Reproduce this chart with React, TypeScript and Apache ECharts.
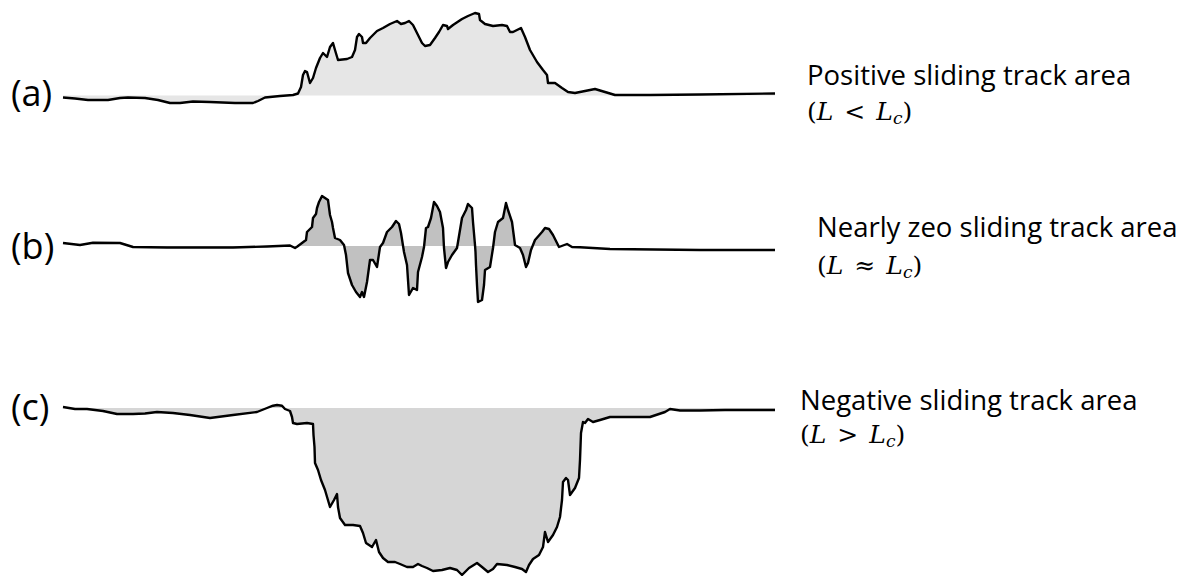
import React, { useEffect, useRef } from "react";
import * as echarts from "echarts";

// Profile data: [distance along track, height relative to the reference line]
const profileA: number[][] = [
  [0, -2], [12, -3], [25, -4.5], [45, -4.5], [57, -2.5], [65, -2], [82, -2.5], [95, -4.5],
  [107, -7.5], [117, -7.5], [130, -6], [147, -6.5], [172, -7.5], [190, -7.5], [195, -5.5],
  [202, -2], [217, -0.5], [230, 0.5], [235, 2], [238, 8.5], [240, 20.5], [242, 24.5],
  [244, 23.5], [247, 12.5], [250, 17.5], [253, 27.5], [257, 37.5], [260, 42.5], [262, 40.5],
  [264, 38.5], [267, 48.5], [270, 52.5], [272, 45.5], [275, 35.5], [284, 36.5], [289, 38.5],
  [292, 45.5], [294, 58.5], [296, 61.5], [299, 58.5], [300, 52.5], [303, 52.5], [307, 57.5],
  [314, 64.5], [320, 67.5], [327, 71.5], [334, 74.5], [338, 71.5], [342, 72.5], [346, 74.5],
  [350, 70.5], [354, 62.5], [359, 52.5], [362, 49.5], [367, 50.5], [372, 57.5], [376, 63.5],
  [380, 70.5], [384, 69.5], [385, 66.5], [390, 70.5], [399, 76.5], [405, 79.5], [412, 82.5],
  [416, 81.5], [417, 75.5], [422, 71.5], [430, 69.5], [439, 70.5], [444, 69.5], [447, 63.5],
  [450, 63.5], [458, 67.5], [462, 58.5], [467, 45.5], [474, 33.5], [480, 25.5], [484, 20.5],
  [485, 12.5], [492, 12.5], [499, 7.5], [505, 3.5], [512, 2.5], [522, 4.5], [532, 6.5],
  [542, 3.5], [552, 0.5], [587, 0.5], [637, 1], [712, 2],
];

const profileB: number[][] = [
  [0, 3], [17, 1], [30, 3.3], [57, 3], [70, -1], [104, -1.5], [170, -1.5], [204, -0.5],
  [227, 0.5], [232, -2], [234, -0.7], [239, 3], [243, 6], [244, 14], [249, 19], [250, 28],
  [253, 32], [254, 38], [256, 44], [259, 50], [262, 48], [265, 46], [267, 31], [269, 24],
  [270, 18], [272, 8], [277, 6], [281, 1], [283, -9], [285, -27], [289, -39], [293, -46],
  [297, -51], [299, -46], [301, -51], [304, -36], [307, -14], [310, -14], [314, -21],
  [317, -1], [320, 3], [324, 14], [329, 19], [333, 25], [336, 22], [338, 13], [341, -6],
  [344, -19], [346, -49], [350, -42], [354, -44], [355, -26], [359, -11], [361, -1],
  [363, 18], [365, 19], [368, 28], [371, 44], [374, 40], [377, 34], [380, 18], [381, -2],
  [383, -22], [385, -16], [389, -9], [394, -2], [399, 28], [403, 36], [405, 42], [409, 38],
  [410, 24], [412, 1], [412.5, -6], [413, -19], [414, -39], [415, -56], [419, -54],
  [421, -39], [422, -24], [427, -21], [430, -2], [432, 14], [435, 24], [440, 28], [443, 43],
  [445, 36], [449, 24], [452, 1], [457, -2], [460, -9], [463, -21], [465, -17], [468, -4],
  [472, 6], [479, 14], [482, 18], [486, 17], [490, 11], [496, -1], [504, 2], [509, -1],
  [517, -1.3], [547, -3], [637, -4], [712, -4],
];

const profileC: number[][] = [
  [0, 1], [12, -1], [24, -1], [40, -3], [54, -6], [70, -6], [82, -5.5], [94, -4], [110, -5],
  [127, -7], [147, -10], [170, -7], [194, -4], [204, 0], [210, 2.3], [214, 3], [219, 2.3],
  [222, -1], [227, -3], [229, -9], [230, -15], [234, -16], [244, -15], [250, -16],
  [250.5, -27], [251, -33], [251.5, -39], [252, -55], [255, -62], [258, -72], [262, -82],
  [267, -99], [271, -92], [274, -86], [275, -99], [277, -110], [282, -117], [290, -117],
  [297, -118], [300, -125], [303, -135], [309, -139], [313, -132], [316, -144], [320, -150],
  [325, -154], [332, -154], [337, -156], [344, -159], [350, -159], [355, -156], [359, -158],
  [364, -160], [370, -163], [379, -162], [387, -160], [394, -162], [399, -167], [401, -165],
  [406, -160], [414, -155], [419, -159], [425, -164], [430, -161], [434, -156], [444, -157],
  [452, -159], [459, -161], [463, -164], [466, -157], [470, -151], [476, -147], [480, -139],
  [482, -124], [485, -134], [490, -127], [494, -119], [497, -109], [499, -92], [500, -74],
  [503, -70], [505, -72], [507, -87], [512, -80], [516, -70], [517, -52], [518, -25],
  [520, -14], [522, -15], [525, -11], [530, -14], [537, -12], [547, -9], [557, -9],
  [587, -9], [602, -4], [607, -1], [617, -2.5], [637, -2.5], [662, -2], [712, -2],
];

const panelLabels = ["(a)", "(b)", "(c)"];
const captions = [
  "Positive sliding track area",
  "Nearly zeo sliding track area",
  "Negative sliding track area",
];
const relations = ["<", "≈", ">"];
const fillColors = ["#e6e6e6", "#c1c1c1", "#d6d6d6"];
// shaded stretch of each profile (distance range)
const fillRanges = [
  [0, 712],
  [65, 504],
  [0, 712],
];

const profiles = [profileA, profileB, profileC];

export default function App() {
  const ref = useRef<HTMLDivElement>(null);
  useEffect(() => {
    document.body.style.margin = "0";
    if (!ref.current) return;
    const chart = echarts.init(ref.current, null, { renderer: "svg" });

    const grids = [
      { left: 63, width: 712, top: 5.5, height: 110 },
      { left: 63, width: 712, top: 186, height: 130 },
      { left: 63, width: 712, top: 388, height: 188 },
    ];
    const yRanges = [
      [-20, 90],
      [-70, 60],
      [-168, 20],
    ];

    const series: any[] = [];
    profiles.forEach((p, i) => {
      const [a, b] = fillRanges[i];
      series.push({
        type: "line",
        xAxisIndex: i,
        yAxisIndex: i,
        data: p.filter((d) => d[0] >= a && d[0] <= b),
        symbol: "none",
        lineStyle: { width: 0, opacity: 0 },
        areaStyle: { color: fillColors[i], opacity: 1 },
        silent: true,
        clip: false,
        z: 1,
      });
      series.push({
        type: "line",
        xAxisIndex: i,
        yAxisIndex: i,
        data: p,
        symbol: "none",
        lineStyle: { width: 2.4, color: "#000", join: "round" },
        silent: true,
        clip: false,
        z: 2,
      });
    });

    const labelY = [92.5, 245, 406];
    const capX = [807, 817, 800];
    const capY = [74, 226, 399];
    const relY = [111, 265, 434];
    const serif = "DejaVu Serif";
    const graphic: any[] = [];
    panelLabels.forEach((t, i) => {
      graphic.push({
        type: "text",
        x: 11,
        y: labelY[i],
        style: {
          text: t,
          font: "36px 'Open Sans', sans-serif",
          fill: "#000",
          align: "left",
          verticalAlign: "middle",
        },
      });
      graphic.push({
        type: "text",
        x: capX[i],
        y: capY[i],
        style: {
          text: captions[i],
          font: "27.5px 'Open Sans', sans-serif",
          fill: "#000",
          align: "left",
          verticalAlign: "middle",
        },
      });
      graphic.push({
        type: "text",
        x: capX[i],
        y: relY[i],
        style: {
          text: "{n|(}{i|L}{op|" + relations[i] + "}{i|L}{s|c}{n|)}",
          fontFamily: serif,
          fontSize: 25,
          fill: "#000",
          align: "left",
          verticalAlign: "middle",
          rich: {
            n: { fontFamily: serif, fontSize: 25, lineHeight: 30, fill: "#000" },
            i: { fontFamily: serif, fontSize: 25, fontStyle: "italic", lineHeight: 30, fill: "#000" },
            op: { fontFamily: serif, fontSize: 25, lineHeight: 30, padding: [0, 11, 0, 11], fill: "#000" },
            s: { fontFamily: serif, fontSize: 17, fontStyle: "italic", lineHeight: 17, verticalAlign: "bottom", fill: "#000" },
          },
        },
      });
    });

    chart.setOption({
      animation: false,
      backgroundColor: "#fff",
      grid: grids,
      xAxis: grids.map((_, i) => ({
        type: "value",
        gridIndex: i,
        min: 0,
        max: 712,
        show: false,
      })),
      yAxis: yRanges.map((r, i) => ({
        type: "value",
        gridIndex: i,
        min: r[0],
        max: r[1],
        show: false,
      })),
      series,
      graphic,
    });
    return () => chart.dispose();
  }, []);
  return <div ref={ref} style={{ width: 1182, height: 576 }} />;
}
